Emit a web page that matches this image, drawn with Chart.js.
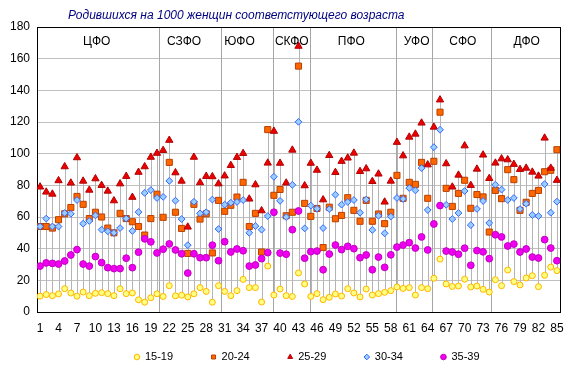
<!DOCTYPE html>
<html>
<head>
<meta charset="utf-8">
<script src="https://cdn.jsdelivr.net/npm/chart.js@4"></script>
<style>
  html, body { margin: 0; padding: 0; background: #fff; }
  #wrap { width: 576px; height: 376px; }
</style>
</head>
<body>
<div id="wrap"><canvas id="births"></canvas></div>
<script>
// region numbers 1..85
var regions = [];
for (var r = 1; r <= 85; r++) regions.push(r);

var xTickLabels = [1, 4, 7, 10, 13, 16, 19, 22, 25, 28, 31, 34, 37, 40, 43, 46, 49, 52, 55, 58, 61, 64, 67, 70, 73, 76, 79, 82, 85];

var ageGroups = ["15-19", "20-24", "25-29", "30-34", "35-39"];

var age15_19 = [10.0, 11.0, 10.3, 11.4, 14.7, 12.0, 10.0, 12.6, 10.3, 11.8,
  12.2, 11.6, 10.3, 14.7, 11.6, 12.0, 7.7, 6.2, 9.0, 11.5,
  9.8, 16.6, 10.2, 10.6, 9.5, 11.5, 15.4, 13.0, 6.2, 16.6,
  13.0, 10.3, 13.5, 20.6, 15.4, 15.4, 6.3, 29.0, 10.7, 14.5,
  10.3, 9.8, 24.7, 17.7, 9.8, 11.6, 7.8, 9.3, 11.4, 10.1,
  14.7, 12.0, 9.5, 14.5, 10.7, 11.6, 12.4, 13.5, 15.8, 14.9,
  15.4, 10.7, 15.4, 14.7, 21.3, 33.4, 17.7, 16.1, 16.4, 20.7,
  15.8, 16.4, 14.3, 12.6, 20.4, 16.6, 26.5, 19.2, 17.1, 21.5,
  22.9, 16.0, 23.2, 28.4, 26.1];

var age20_24 = [54, 54, 53, 58.3, 62, 66, 73, 68, 59, 63,
  60, 53, 50, 62.3, 59, 57, 54, 48.6, 59, 74.4,
  59.8, 94.5, 63, 52.8, 37, 68, 58.7, 62, 37.3, 70.5,
  63.6, 67.4, 72.6, 81.9, 54, 62.3, 37.9, 115.2, 73.7, 77.4,
  60.8, 63, 155.3, 68.6, 60.4, 65.4, 40.7, 66.2, 58.9, 61,
  72.2, 64.2, 57.3, 70.5, 57.3, 61.9, 55.8, 63, 86.3, 71.8,
  81.9, 80.6, 94.5, 71.8, 95.2, 126.2, 78.1, 66.7, 74.9, 83.2,
  65.5, 74.2, 72.7, 50.5, 76.8, 71.6, 89.9, 83.6, 64.2, 69.3,
  74.9, 76.8, 88.6, 89.5, 102.5];

var age25_29 = [79, 75.8, 74.5, 83, 91.8, 81.5, 97.5, 82.7, 77, 84.2,
  80, 76.4, 70.3, 81, 85.7, 72.5, 88.3, 91.8, 97.8, 100.3,
  102.1, 108.5, 88, 82.7, 53.7, 97.8, 81.7, 85.7, 85.5, 81,
  86, 92.6, 97.7, 100.2, 71.4, 80.4, 64, 94.1, 114.2, 94,
  81.5, 102.3, 167.9, 79.8, 94, 89.6, 70.9, 98.9, 88.2, 95.2,
  97.3, 100.4, 88.8, 90.5, 82.5, 87.2, 69.5, 82.7, 107.2, 98.7,
  110.5, 112.4, 119.4, 93, 116.8, 134, 93.7, 79, 86.5, 105,
  80, 90.3, 99.2, 84.4, 94.1, 96.8, 96.2, 93.3, 90.1, 90.9,
  88.4, 85.9, 109.9, 90.9, 83.2];

var age30_34 = [54, 59, 54, 54, 62.5, 62, 70.7, 55.8, 57.5, 61,
  52, 51, 50, 53, 59, 51.2, 63.1, 75.2, 77, 72,
  72.7, 82.8, 70.3, 58.7, 42.2, 69.6, 62.3, 63, 71, 52.4,
  67.8, 69, 69.5, 70.7, 50, 54.3, 52, 60.6, 85.4, 70.2,
  60, 80.3, 120.1, 52.8, 67.2, 65.2, 53, 65, 74.1, 67.8,
  69.5, 70.7, 62.7, 71, 51.8, 60.8, 49.7, 60.3, 72, 71.4,
  78.3, 76.8, 90.9, 64.4, 104.1, 115.1, 67.7, 58.7, 62.5, 76.4,
  54.9, 65.1, 70.1, 56.2, 80.4, 77.3, 70.7, 72, 65, 68.4,
  61.3, 60.6, 80.8, 62.7, 69.7];

var age35_39 = [29, 31, 30.7, 30.3, 32.2, 36, 39.4, 30.3, 29, 35,
  31.2, 28, 27.4, 27.4, 34, 28, 37.8, 46.2, 44.3, 37.3,
  39.7, 43, 39.2, 36.8, 24.6, 36.8, 34.3, 34.3, 42.2, 32.4,
  44.4, 37.9, 39.8, 38.7, 29, 29.7, 33.7, 37.5, 63, 37.2,
  36.5, 52, 63.8, 34, 38.1, 38.5, 26.7, 36.6, 42.3, 39.4,
  41.5, 40, 34.3, 36, 26.7, 34.7, 28.2, 36.1, 41, 42.3,
  43.8, 40.4, 47.4, 39.2, 55.6, 67.2, 38.5, 37.9, 36.5, 40.3,
  29.5, 38.8, 38, 33.7, 48.8, 47.4, 41.7, 42.9, 37.9, 39.8,
  34.7, 34.1, 45.7, 40.4, 32.4];

var districts = ["ЦФО", "СЗФО", "ЮФО", "СКФО", "ПФО", "УФО", "СФО", "ДФО"];

var chartTitle = "Родившихся на 1000 женщин соответстующего возраста";

// where the district dividers and district names sit, in region units
var dividerAt = [20.3, 30.45, 38.8, 44.9, 58.9, 64.65, 74.3];
var districtLabelAt = [10.2, 24.4, 33.4, 41.9, 51.6, 62.2, 69.7, 80.1];

// legend row sits right under the axis labels, a bit right of centre
var legendShiftX = 27, legendGap = 1.5;

function points(values) {
  return regions.map(function (reg, i) { return { x: reg, y: values[i] }; });
}

var allSeries = [age15_19, age20_24, age25_29, age30_34, age35_39];

var decor = {
  id: "decor",
  afterLayout: function (chart) {
    var lg = chart.legend;
    lg.left += legendShiftX;
    lg.right += legendShiftX;
    lg.top = chart.chartArea.bottom + legendGap;
    lg.bottom = chart.height;
  },
  beforeDatasetsDraw: function (chart) {
    var ctx = chart.ctx, a = chart.chartArea;
    var xs = chart.scales.x, ys = chart.scales.y;
    ctx.save();
    // high-low lines per region
    ctx.strokeStyle = "#b4b4b4";
    ctx.lineWidth = 1;
    for (var i = 0; i < regions.length; i++) {
      var vals = allSeries.map(function (s) { return s[i]; });
      var px = Math.round(xs.getPixelForValue(regions[i])) + 0.5;
      ctx.beginPath();
      ctx.moveTo(px, ys.getPixelForValue(Math.max.apply(null, vals)));
      ctx.lineTo(px, ys.getPixelForValue(Math.min.apply(null, vals)));
      ctx.stroke();
    }
    // district dividers
    ctx.strokeStyle = "#a6a6a6";
    dividerAt.forEach(function (v) {
      var px = Math.round(xs.getPixelForValue(v)) + 0.5;
      ctx.beginPath();
      ctx.moveTo(px, a.top);
      ctx.lineTo(px, a.bottom);
      ctx.stroke();
    });
    // plot frame
    ctx.strokeStyle = "#000";
    ctx.strokeRect(Math.round(a.left) + 0.5, Math.round(a.top) + 0.5,
      Math.round(a.right - a.left), Math.round(a.bottom - a.top));
    ctx.restore();
  },
  afterDraw: function (chart) {
    var ctx = chart.ctx, xs = chart.scales.x;
    ctx.save();
    ctx.textBaseline = "middle";
    ctx.font = "italic 12px 'Liberation Sans', Arial, sans-serif";
    ctx.fillStyle = "#000080";
    ctx.textAlign = "left";
    ctx.fillText(chartTitle, 68, 16);
    ctx.font = "12px 'Liberation Sans', Arial, sans-serif";
    ctx.fillStyle = "#000";
    ctx.textAlign = "center";
    districts.forEach(function (d, i) {
      ctx.fillText(d, xs.getPixelForValue(districtLabelAt[i]), 42);
    });
    ctx.restore();
  }
};

var styles = [
  { pointStyle: "circle", radius: 3, bg: "#ffff80", border: "#ffb400" },
  { pointStyle: "rect", radius: 4.3, bg: "#ff6600", border: "#b84000" },
  { pointStyle: "triangle", radius: 4.2, bg: "#ee0000", border: "#b00000" },
  { pointStyle: "rectRot", radius: 3.4, bg: "#99ccff", border: "#3366ff" },
  { pointStyle: "circle", radius: 3.4, bg: "#f000f0", border: "#c000c0" }
];

var datasets = ageGroups.map(function (g, k) {
  return {
    label: g,
    data: points(allSeries[k]),
    pointStyle: styles[k].pointStyle,
    pointRadius: styles[k].radius,
    pointHoverRadius: styles[k].radius,
    backgroundColor: styles[k].bg,
    borderColor: styles[k].border,
    borderWidth: 1,
    order: 5 - k
  };
});

Chart.defaults.font.family = "'Liberation Sans', Arial, sans-serif";
Chart.defaults.color = "#000";

new Chart(document.getElementById("births"), {
  type: "scatter",
  data: { datasets: datasets },
  options: {
    responsive: true,
    maintainAspectRatio: false,
    animation: false,
    layout: { padding: { left: 0, right: 16, top: 27, bottom: 0 } },
    plugins: {
      title: { display: false },
      tooltip: { enabled: false },
      legend: {
        position: "bottom",
        maxHeight: 34,
        labels: {
          usePointStyle: true,
          boxWidth: 5,
          boxHeight: 4,
          padding: 38,
          font: { size: 11 },
          sort: function (a, b) { return a.datasetIndex - b.datasetIndex; }
        }
      }
    },
    scales: {
      x: {
        type: "linear",
        min: 0.5,
        max: 85.5,
        afterBuildTicks: function (scale) {
          scale.ticks = xTickLabels.map(function (v) { return { value: v }; });
        },
        afterFit: function (scale) { scale.height = 30; },
        grid: { display: false, drawTicks: false },
        border: { display: true, color: "#000" },
        ticks: { autoSkip: false, maxRotation: 0, padding: 9, font: { size: 12 } }
      },
      y: {
        min: 0,
        max: 180,
        afterFit: function (scale) { scale.width = 37; },
        grid: { color: "#c0c0c0", drawTicks: false },
        border: { display: true, color: "#000" },
        ticks: { stepSize: 20, padding: 7, font: { size: 12 } }
      }
    }
  },
  plugins: [decor]
});
</script>
</body>
</html>
